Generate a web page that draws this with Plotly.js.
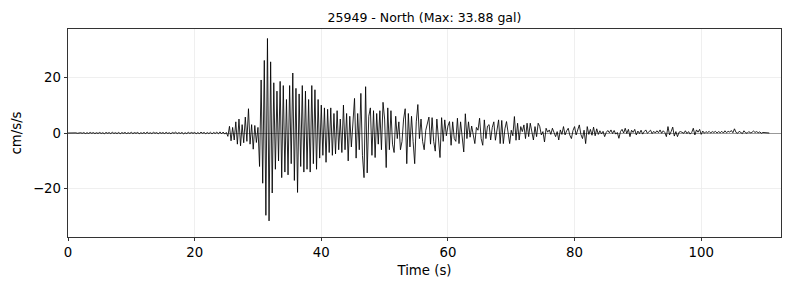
<!DOCTYPE html>
<html>
<head>
<meta charset="utf-8">
<script src="https://cdn.plot.ly/plotly-3.0.1.min.js"></script>
<style>html,body{margin:0;padding:0;background:#fff;}#chart{width:789px;height:290px;}</style>
</head>
<body>
<div id="chart"></div>
<script>
// Station / component info
const stationId = "25949";
const component = "North";
const peakGal = 33.88;

// Sampling of the record (seconds)
const startTime = 0;
const sampleStep = 0.25;

// Acceleration (cm/s/s), one row = 5 s of record
const accel = [
  // 0-5 s
  0, 0.05, -0.05, 0.1, -0.05, 0.05, -0.1, 0.05, 0.1, -0.1, 0.15, -0.2, 0.1, -0.15, 0.2, -0.1, 0.15, -0.2, 0.1, -0.15,
  // 5-10 s
  0.2, -0.15, 0.1, -0.25, 0.2, -0.1, 0.15, -0.2, 0.25, -0.15, 0.1, -0.2, 0.2, -0.25, 0.15, -0.1, 0.2, -0.2, 0.1, -0.15,
  // 10-15 s
  0.25, -0.2, 0.15, -0.1, 0.2, -0.25, 0.1, -0.15, 0.2, -0.2, 0.3, -0.15, 0.1, -0.2, 0.25, -0.1, 0.15, -0.25, 0.2, -0.1,
  // 15-20 s
  0.15, -0.2, 0.25, -0.15, 0.1, -0.25, 0.2, -0.1, 0.3, -0.2, 0.15, -0.15, 0.2, -0.3, 0.1, -0.2, 0.25, -0.15, 0.2, -0.1,
  // 20-25 s
  0.2, -0.25, 0.15, -0.2, 0.3, -0.1, 0.2, -0.25, 0.15, -0.2, 0.25, -0.3, 0.2, -0.15, 0.3, -0.25, 0.4, -0.3, 0.35, -0.4,
  // 25-30 s
  0.2, -1.2, 2.4, -2.8, 2.0, -2.5, 4.0, -4.0, 5.0, -4.6, 3.0, -3.5, 5.7, -3.0, 8.7, -4.0, 3.0, -5.8, 2.7, -3.4,
  // 30-35 s
  2, -12, 19, -18, 26, -29.5, 33.88, -31.5, 25.5, -21.5, 18, -13, 15, -10, 18.5, -16, 17, -14, 12, -15,
  // 35-40 s
  17, -11, 21.5, -17, 16, -21.3, 14, -12, 17, -14, 15, -13, 12, -14, 17, -11, 15.5, -13, 12, -9,
  // 40-45 s
  10, -8, 9, -10.5, 8.5, -7, 9, -8, 7, -7.5, 8, -6, 5, -7, 10, -6, 7, -10, 6, -5,
  // 45-50 s
  3, 12.4, -9, 7, -6, 14.2, -8, -16, 16.6, -14.3, 6, 9, -8, 8, -8.8, 7, -4, 8, -6, 11,
  // 50-55 s
  5, -12.4, 9, -6, 8, -4, -7, 6, -2, 4, -6, -3, 5, 8.7, -11, 7, -5, 6, -3, -11,
  // 55-60 s
  4, 10.2, -2, 5, -3, -6, 1, 4, 5.7, -4, 5.5, -3, -6.5, 5, -4, -8.8, 5.5, -3, 4.7, -1,
  // 60-65 s
  2.5, 4.1, -4.4, 4, -2, -3, 5.3, -3.8, 4, -1, -6.8, 6.9, -2, 4, -1.5, 2.5, -1, -3.8, 2, 1,
  // 65-70 s
  5.3, -2, -4.4, 4.7, -2, 2.5, 3, -2.5, 2, 4, -2.6, 1, 4.7, -3.8, 4.5, -3.8, 1.5, 4.1, -1, -3.8,
  // 70-75 s
  1, -1, 5.9, -2.6, 3.5, -2.5, 2.3, 0.5, 2.9, -2, 3.5, -1.3, 3.5, 0.5, -2.5, 2.3, -1.3, 3.5, 2.3, -0.7,
  // 75-80 s
  0.5, -3.2, 1.7, 0.3, 1.1, -0.5, 1.7, 0.2, -1.3, 0.5, -2.5, 1.1, -0.5, 2.3, -0.7, 0.8, 1.7, -0.8, -2, 0.9,
  // 80-85 s
  2.3, -0.7, 0.8, 2.9, -0.5, -2, 1, -3.8, 2.3, -0.5, 1.3, -0.8, 2.1, -1, 1.5, -0.5, 0.8, -0.3, 0.6, -1.3,
  // 85-90 s
  0.2, 0.9, 0.1, 1.1, -0.2, 0.9, -0.4, 0.2, -1.9, 0.5, 1.3, 0, 1.7, -0.2, 1.3, -1.3, 1, 0.2, 1.3, -0.7,
  // 90-95 s
  0.7, -0.2, 1.0, -0.4, 0.5, 1.1, -0.1, 0.5, 1.0, -0.2, 0.6, 0.0, 0.8, 0.1, 1.1, -0.1, 0.8, 0.2, -1.3, 2.3,
  // 95-100 s
  -0.7, 0.5, 2.1, -1.1, 0.5, -1.3, 0.3, 0.5, 0.2, -0.1, 0.8, -0.2, 0.5, -0.4, 0.2, 1.7, -0.7, 1.1, 0.3, 1.3,
  // 100-105 s
  -0.5, 0.7, -0.1, 0.5, 0.1, 0.6, 0.0, 0.5, 0.2, 0.6, 0.0, 0.5, 0.1, 0.6, 0.0, 0.8, 0.1, 0.6, 0.3, 0.9,
  // 105-110 s
  0.1, 1.5, 0.2, -0.1, 0.6, 0.1, -0.2, 0.8, 0.1, -0.1, 0.5, 0.1, 0.2, 0.7, 0.2, 0.5, 0.1, 0.4, -0.1, 0.2,
  // 110-111 s
  0.1, 0.1, 0, 0
];

// Axis settings
const xTicks = [0, 20, 40, 60, 80, 100];
const yTicks = [-20, 0, 20];
const xMax = 112.6;
const yLimit = 37.27;

const font = "DejaVu Sans, Liberation Sans, sans-serif";

const trace = {
  type: "scatter",
  mode: "lines",
  y: accel,
  x0: startTime,
  dx: sampleStep,
  line: {color: "#000000", width: 0.85},
  hoverinfo: "skip",
  showlegend: false
};

const layout = {
  width: 789,
  height: 290,
  margin: {l: 68, r: 8, t: 29, b: 53},
  paper_bgcolor: "#ffffff",
  plot_bgcolor: "#ffffff",
  font: {family: font, size: 13.3, color: "#000000"},
  title: {
    text: stationId + " - " + component + " (Max: " + peakGal.toFixed(2) + " gal)",
    font: {family: font, size: 12.5, color: "#000000"},
    x: 0.5, xref: "paper", xanchor: "center",
    y: 1, yref: "paper", yanchor: "bottom", pad: {b: 7}
  },
  xaxis: {
    range: [0, xMax],
    tickvals: xTicks,
    ticktext: xTicks.map(String),
    ticks: "outside", ticklen: 3.5, tickwidth: 0.8, tickcolor: "#000",
    showline: true, linecolor: "#000", linewidth: 0.8, mirror: true,
    showgrid: true, gridcolor: "#ebebeb", gridwidth: 0.8,
    zeroline: false,
    tickfont: {family: font, size: 13.3},
    title: {text: "Time (s)", font: {family: font, size: 13.3}, standoff: 6}
  },
  yaxis: {
    range: [-yLimit, yLimit],
    tickvals: yTicks,
    ticktext: yTicks.map(v => v < 0 ? "\u2212" + Math.abs(v) : String(v)),
    ticks: "outside", ticklen: 3.5, tickwidth: 0.8, tickcolor: "#000",
    showline: true, linecolor: "#000", linewidth: 0.8, mirror: true,
    showgrid: true, gridcolor: "#ebebeb", gridwidth: 0.8,
    zeroline: true, zerolinecolor: "#808080", zerolinewidth: 0.8,
    tickfont: {family: font, size: 13.3},
    title: {text: "cm/s/s", font: {family: font, size: 13.3}, standoff: 8}
  }
};

Plotly.newPlot("chart", [trace], layout, {staticPlot: true, displayModeBar: false});
</script>
</body>
</html>
